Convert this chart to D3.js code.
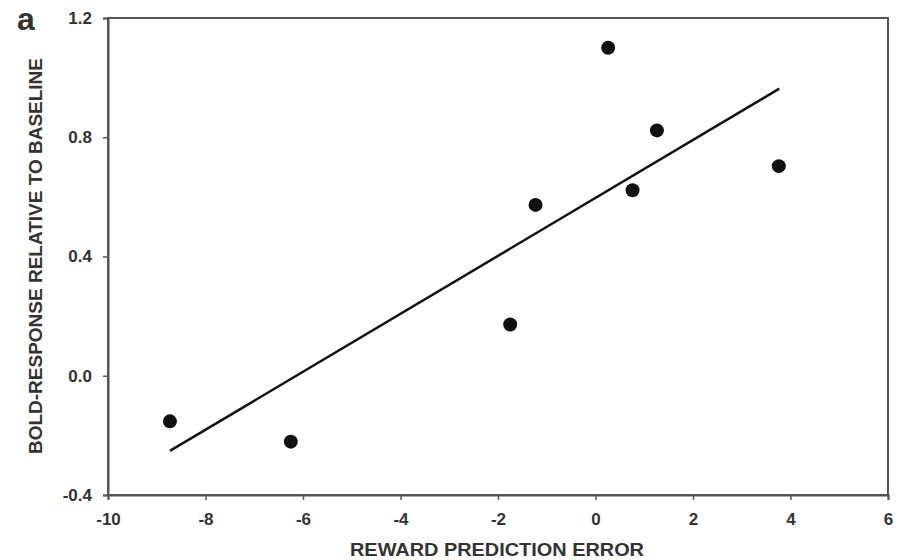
<!DOCTYPE html>
<html>
<head>
<meta charset="utf-8">
<script src="https://cdn.jsdelivr.net/npm/d3@7"></script>
<style>
  body { margin: 0; background: #fff; }
  text { font-family: "Liberation Sans", Arial, sans-serif; font-weight: bold; fill: #333; }
</style>
</head>
<body>
<div id="chart"></div>
<script>
// data
const rpe = [-8.73, -6.25, -1.75, -1.23, 0.26, 0.76, 1.26, 3.76];
const bold = [-0.153, -0.221, 0.172, 0.573, 1.100, 0.622, 0.823, 0.703];
const fitX = [-8.73, 3.77];
const fitY = [-0.252, 0.963];
const xTicks = [-10, -8, -6, -4, -2, 0, 2, 4, 6];
const yTicks = [-0.4, 0.0, 0.4, 0.8, 1.2];

const dims = {
    width: 898,
    height: 560,
    margin: { top: 18, right: 10, bottom: 65, left: 108 }
};
const innerW = 888 - dims.margin.left;
const innerH = 495 - dims.margin.top;

const svg = d3.select("#chart")
    .append("svg")
    .attr("width", dims.width)
    .attr("height", dims.height);

const g = svg.append("g")
    .attr("transform", `translate(${dims.margin.left},${dims.margin.top})`);

const x = d3.scaleLinear().domain([-10, 6]).range([0, innerW]);
const y = d3.scaleLinear().domain([-0.4, 1.2]).range([innerH, 0]);

// frame
g.append("rect")
    .attr("width", innerW)
    .attr("height", innerH)
    .attr("fill", "none")
    .attr("stroke", "#555")
    .attr("stroke-width", 2);

// plain hyphens for negatives, like the original
const xAxis = g.append("g")
    .attr("transform", `translate(0,${innerH})`)
    .call(d3.axisBottom(x).tickValues(xTicks).tickFormat(d => String(d)).tickSize(5).tickPadding(13));

const yAxis = g.append("g")
    .call(d3.axisLeft(y).tickValues(yTicks).tickFormat(d => d.toFixed(1)).tickSize(5).tickPadding(11));

[xAxis, yAxis].forEach(ax => {
    ax.select(".domain").attr("stroke", "#555").attr("stroke-width", 2);
    ax.selectAll(".tick line").attr("stroke", "#555").attr("stroke-width", 1.5);
    ax.selectAll(".tick text")
        .style("font-size", "17px")
        .style("font-family", "'Liberation Sans', Arial, sans-serif")
        .style("font-weight", "bold")
        .attr("fill", "#333");
});
xAxis.selectAll(".tick line").attr("y1", -1);

// regression line
g.append("line")
    .attr("x1", x(fitX[0]))
    .attr("y1", y(fitY[0]))
    .attr("x2", x(fitX[1]))
    .attr("y2", y(fitY[1]))
    .attr("stroke", "#111")
    .attr("stroke-width", 2.5);

// points
g.selectAll("circle")
    .data(rpe.map((v, i) => ({ x: v, y: bold[i] })))
    .enter()
    .append("circle")
    .attr("cx", d => x(d.x))
    .attr("cy", d => y(d.y))
    .attr("r", 7)
    .attr("fill", "#111");

// axis titles
svg.append("text")
    .attr("x", 497)
    .attr("y", 556)
    .attr("text-anchor", "middle")
    .attr("textLength", 294)
    .attr("lengthAdjust", "spacingAndGlyphs")
    .style("font-size", "19px")
    .text("REWARD PREDICTION ERROR");

svg.append("text")
    .attr("transform", "translate(42,256) rotate(-90)")
    .attr("text-anchor", "middle")
    .attr("textLength", 396)
    .attr("lengthAdjust", "spacingAndGlyphs")
    .style("font-size", "18px")
    .text("BOLD-RESPONSE RELATIVE TO BASELINE");

// panel letter
svg.append("text")
    .attr("x", 17)
    .attr("y", 30)
    .style("font-size", "32px")
    .attr("fill", "#222")
    .text("a");
</script>
</body>
</html>
